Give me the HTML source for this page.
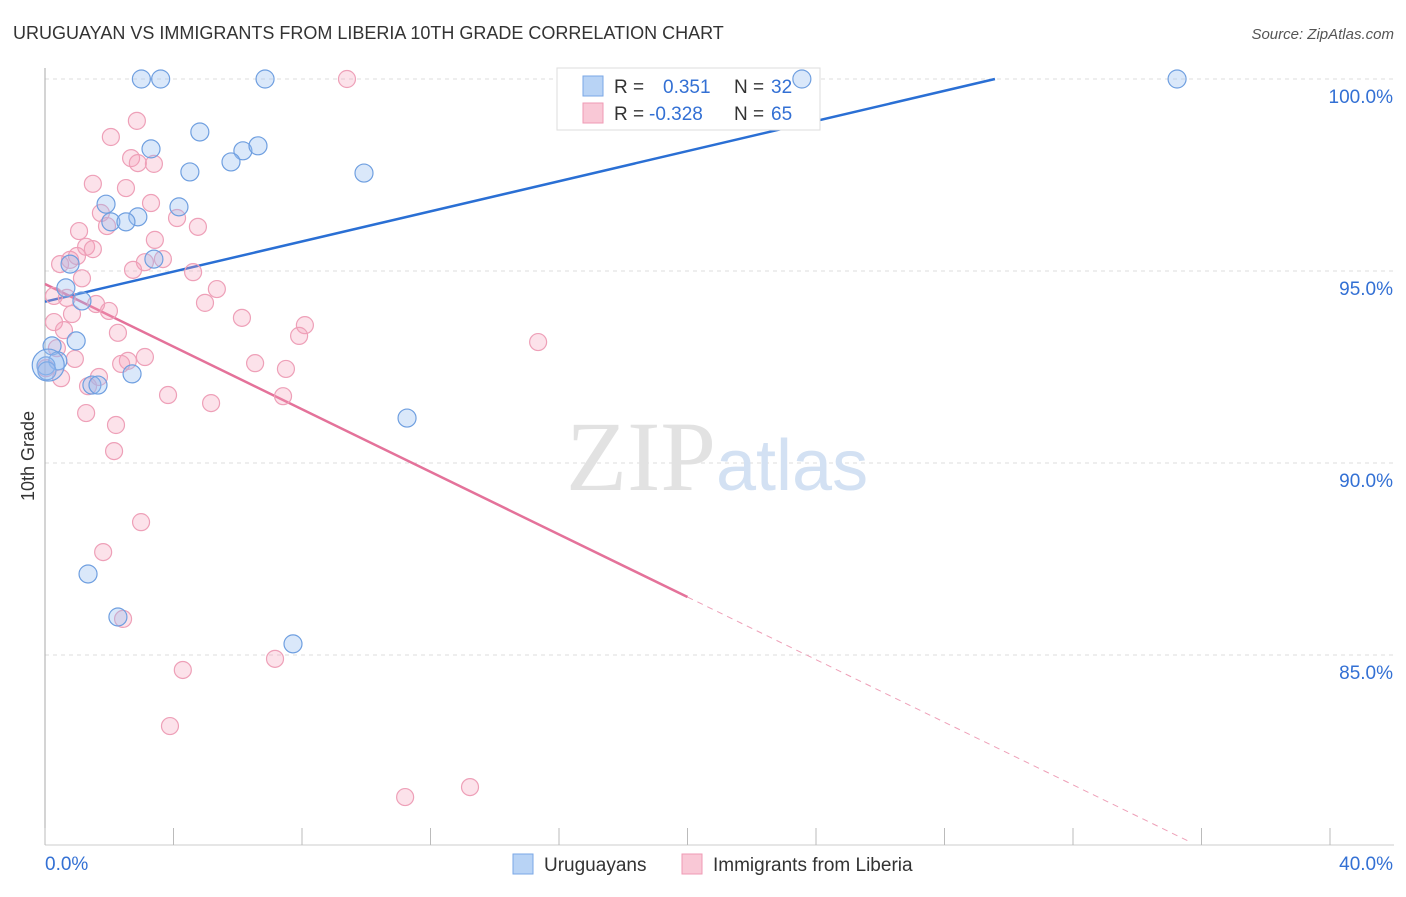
<!DOCTYPE html>
<html><head><meta charset="utf-8"><style>
body{margin:0;background:#fff;font-family:"Liberation Sans",sans-serif}
</style></head><body>
<svg width="1406" height="892" xmlns="http://www.w3.org/2000/svg" font-family="Liberation Sans, sans-serif">
<text x="13" y="39" font-size="18" fill="#333">URUGUAYAN VS IMMIGRANTS FROM LIBERIA 10TH GRADE CORRELATION CHART</text>
<text x="1394" y="39" font-size="15" fill="#555" text-anchor="end" font-style="italic">Source: ZipAtlas.com</text>
<g id="grid"></g>
<text x="716" y="490" font-size="100" text-anchor="end" fill="#e2e2e2" font-family="Liberation Serif, serif">ZIP</text>
<text x="716" y="490" font-size="72" fill="#d3e1f3">atlas</text>
<g id="lines"></g>
<g>
<rect x="557" y="68" width="263" height="62" fill="#fff" stroke="#ddd"/>
<rect x="583" y="76" width="20" height="20" fill="#b8d3f5" stroke="#7aa7e6"/>
<rect x="583" y="103" width="20" height="20" fill="#f9c8d6" stroke="#ef9ab4"/>
<text x="614" y="93" font-size="19" fill="#333">R =</text>
<text x="663" y="93" font-size="19" fill="#3370d4">0.351</text>
<text x="734" y="93" font-size="19" fill="#333">N =</text>
<text x="771" y="93" font-size="19" fill="#3370d4">32</text>
<text x="614" y="120" font-size="19" fill="#333">R =</text>
<text x="649" y="120" font-size="19" fill="#3370d4">-0.328</text>
<text x="734" y="120" font-size="19" fill="#333">N =</text>
<text x="771" y="120" font-size="19" fill="#3370d4">65</text>
</g>
<g id="pts"></g>
<text transform="translate(34,456) rotate(-90)" font-size="18" fill="#333" text-anchor="middle">10th Grade</text>
<g>
<rect x="513" y="854" width="20" height="20" fill="#b8d3f5" stroke="#7aa7e6"/>
<text x="544" y="871" font-size="19" fill="#333">Uruguayans</text>
<rect x="682" y="854" width="20" height="20" fill="#f9c8d6" stroke="#ef9ab4"/>
<text x="713" y="871" font-size="19" fill="#333">Immigrants from Liberia</text>
</g>
</svg>
<script>
const yTicks=[100,95,90,85];
const yTickLabels=["100.0%","95.0%","90.0%","85.0%"];
const xTicks=[0,4,8,12,16,20,24,28,32,36,40];
const blueX=[3.0,3.6,6.85,23.56,35.24,4.82,3.3,6.16,6.63,5.79,4.51,9.93,4.17,1.9,2.89,2.05,2.52,3.39,0.78,0.65,1.15,0.97,0.22,0.4,0.03,0.06,2.71,1.46,1.65,11.27,1.34,2.27,7.72,0.1];
const blueY=[100,100,100,100,100,98.62,98.18,98.13,98.26,97.84,97.58,97.55,96.67,96.74,96.41,96.28,96.28,95.31,95.18,94.56,94.22,93.18,93.05,92.66,92.53,92.4,92.32,92.03,92.03,91.17,87.11,85.99,85.29,92.55];
const blueR=[9,9,9,9,9,9,9,9,9,9,9,9,9,9,9,9,9,9,9,9,9,9,9,9,9,9,9,9,9,9,9,9,9,16];
const pinkX=[9.4,2.86,2.05,2.68,2.89,3.39,1.49,2.52,3.3,1.74,4.11,4.76,1.93,1.06,3.42,1.28,1.49,0.47,0.78,0.996,3.67,3.11,2.74,4.61,1.15,5.35,0.28,0.68,4.98,1.59,1.99,0.84,6.13,8.09,0.28,0.59,2.27,7.91,15.35,0.37,3.11,0.93,2.58,2.37,6.54,7.5,0.03,0.5,1.68,1.34,3.83,7.41,5.17,1.28,2.21,2.15,2.99,1.81,2.43,4.29,7.16,3.89,13.23,11.21];
const pinkY=[100,98.91,98.49,97.94,97.81,97.79,97.27,97.16,96.77,96.51,96.38,96.15,96.17,96.04,95.81,95.63,95.57,95.18,95.29,95.39,95.31,95.23,95.03,94.97,94.81,94.53,94.35,94.3,94.17,94.14,93.96,93.88,93.78,93.59,93.67,93.46,93.39,93.31,93.15,92.99,92.76,92.71,92.66,92.58,92.6,92.45,92.47,92.21,92.24,92.0,91.77,91.74,91.56,91.3,90.99,90.31,88.46,87.68,85.94,84.61,84.9,83.15,81.56,81.3];
const blueLine=[[0,94.2],[29.57,100]];
const pinkLine=[[0,94.66],[20,86.51]];
const pinkDash=[[20,86.51],[35.6,80.15]];
const X=v=>45+v*32.125, Y=v=>79+(100-v)*38.4;
const ns="http://www.w3.org/2000/svg";
function mk(t,a,p){const e=document.createElementNS(ns,t);for(const k in a)e.setAttribute(k,a[k]);p.appendChild(e);return e;}
const g=document.getElementById('grid');
yTicks.forEach((t,i)=>{
 const l=mk('line',{x1:45,x2:1394,y1:Y(t),y2:Y(t),stroke:'#ddd','stroke-dasharray':'4,4'},g);
 
 
 const tx=mk('text',{x:1393,y:Y(t)+24,'font-size':19,fill:'#3370d4','text-anchor':'end'},g);
 tx.textContent=yTickLabels[i];
 
 
});
const ax=mk('line',{x1:45,x2:45,y1:68,y2:845,stroke:'#aaa'},g);


const bx=mk('line',{x1:45,x2:1394,y1:845,y2:845,stroke:'#ccc'},g);


xTicks.forEach(t=>{
 const l=mk('line',{x1:X(t),x2:X(t),y1:828,y2:845,stroke:'#bbb'},g);
 
 
});
[[0,'0.0%','start'],[40,'40.0%','end']].forEach(([v,s,a])=>{
 const tx=mk('text',{x:a==='start'?X(v):X(v)+63,y:870,'font-size':19,fill:'#3370d4','text-anchor':a},g);
 tx.textContent=s;
 
 
});
const p=document.getElementById('pts');
pinkX.forEach((x,i)=>{
 const c=mk('circle',{cx:X(x),cy:Y(pinkY[i]),r:8.5,fill:'rgba(244,160,186,0.3)',stroke:'#eea0b8','stroke-width':1.2},p);
 
 
});
blueX.forEach((x,i)=>{
 const c=mk('circle',{cx:X(x),cy:Y(blueY[i]),r:blueR[i],fill:'rgba(150,190,240,0.35)',stroke:'#6f9fe0','stroke-width':1.2},p);
 
 
});
const L=document.getElementById('lines');
function ln(d,col,dash,name){const e=mk('line',{x1:X(d[0][0]),y1:Y(d[0][1]),x2:X(d[1][0]),y2:Y(d[1][1]),stroke:col,'stroke-width':dash?1:2.5},L);if(dash)e.setAttribute('stroke-dasharray','6,5');
 
 }
ln(blueLine,'#2a6fd4',false,'uruguayan-trendline');
ln(pinkLine,'#e4729a',false,'liberia-trendline');
ln(pinkDash,'#eea0b8',true,'liberia-trendline-extension');
</script>
</body></html>
